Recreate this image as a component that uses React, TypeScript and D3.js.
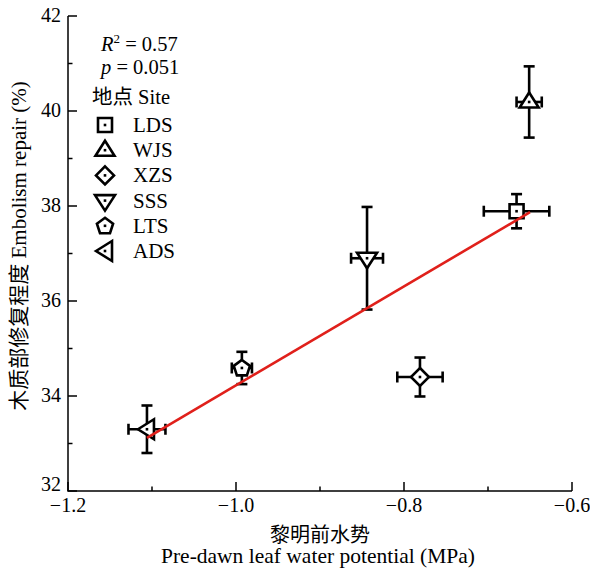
import React from 'react';
import * as d3 from 'd3';

// values
const sites = ['LDS', 'WJS', 'XZS', 'SSS', 'LTS', 'ADS'];
const psiPd = [-0.666, -0.651, -0.781, -0.844, -0.993, -1.106];
const psiErr = [0.039, 0.015, 0.027, 0.019, 0.012, 0.022];
const repair = [37.89, 40.19, 34.4, 36.9, 34.59, 33.3];
const repairErr = [0.36, 0.75, 0.41, 1.08, 0.34, 0.5];
const fitX = [-1.106, -0.65];
const fitY = [33.12, 37.87];
const xTicks = [-1.2, -1.0, -0.8, -0.6];
const xMinor = [-1.1, -0.9, -0.7];
const yTicks = [32, 34, 36, 38, 40, 42];
const yMinor = [33, 35, 37, 39, 41];

const FONT = '"Liberation Serif", "Times New Roman", "Noto Sans CJK SC", serif';

// marker outlines around (0,0)
const shapes: Record<string, [number, number][]> = {
  LDS: [[-7, -7], [7, -7], [7, 7], [-7, 7]],
  WJS: [[0, -9.5], [9.5, 5.5], [-9.5, 5.5]],
  XZS: [[0, -9], [9, 0], [0, 9], [-9, 0]],
  SSS: [[-10, -5.5], [10, -5.5], [0, 10]],
  LTS: d3.range(5).map(i => {
    const a = -Math.PI / 2 + (i * 2 * Math.PI) / 5;
    return [8.5 * Math.cos(a), 8.5 * Math.sin(a) + 0.5] as [number, number];
  }),
  ADS: [[-9, 0], [7, -10], [7, 10]],
};

const line = d3.line<[number, number]>().curve(d3.curveLinearClosed);

const Marker = ({ site, x, y }: { site: string; x: number; y: number }) => (
  <g transform={`translate(${x},${y})`}>
    <path d={line(shapes[site]) || ''} fill="white" stroke="black" strokeWidth={2.6} strokeLinejoin="miter" />
    <rect x={-1.3} y={-1.3} width={2.6} height={2.6} fill="black" />
  </g>
);

export default function App() {
  const x = d3.scaleLinear().domain([-1.2, -0.6]).range([68, 572]);
  const y = d3.scaleLinear().domain([32, 42]).range([491, 16]);
  const fit = d3.line<number>().x(d => x(d)).y((d, i) => y(fitY[i]));

  return (
    <svg width={590} height={570} style={{ position: 'absolute', left: 0, top: 0, fontFamily: FONT }}>
      <rect width={590} height={570} fill="white" />

      {/* axes */}
      <g stroke="black" strokeWidth={1.5} fill="none">
        <path d={`M${x(-1.2)},${y(42)}V${y(32)}H${x(-0.6)}`} />
        {xTicks.map(t => <line key={'xt' + t} x1={x(t)} x2={x(t)} y1={y(32)} y2={y(32) - 9} />)}
        {xMinor.map(t => <line key={'xm' + t} x1={x(t)} x2={x(t)} y1={y(32)} y2={y(32) - 4.5} />)}
        {yTicks.map(t => <line key={'yt' + t} x1={x(-1.2)} x2={x(-1.2) + 9} y1={y(t)} y2={y(t)} />)}
        {yMinor.map(t => <line key={'ym' + t} x1={x(-1.2)} x2={x(-1.2) + 4.5} y1={y(t)} y2={y(t)} />)}
      </g>
      <g fontSize={20} fill="black">
        {xTicks.map(t => (
          <text key={'xl' + t} x={x(t)} y={512} textAnchor="middle">
            {d3.format('.1f')(t).replace('-', '\u2212')}
          </text>
        ))}
        {yTicks.map(t => (
          <text key={'yl' + t} x={61} y={y(t) + (t === 32 ? 0 : 6)} textAnchor="end">{t}</text>
        ))}
      </g>

      {/* axis titles */}
      <g fill="black" textAnchor="middle">
        <text x={320} y={542} fontSize={20}>黎明前水势</text>
        <text x={318} y={563} fontSize={21.5}>Pre-dawn leaf water potential (MPa)</text>
        <text transform="translate(26,246) rotate(-90)" fontSize={21}>木质部修复程度 Embolism repair (%)</text>
      </g>

      {/* error bars */}
      <g stroke="black" strokeWidth={2.6}>
        {sites.map((s, i) => {
          const cx = x(psiPd[i]);
          const cy = y(repair[i]);
          const y0 = y(repair[i] - repairErr[i]);
          const y1 = y(repair[i] + repairErr[i]);
          const x0 = x(psiPd[i] - psiErr[i]);
          const x1 = x(psiPd[i] + psiErr[i]);
          return (
            <g key={'e' + s}>
              <line x1={cx} x2={cx} y1={y0} y2={y1} />
              <line x1={cx - 5.5} x2={cx + 5.5} y1={y0} y2={y0} />
              <line x1={cx - 5.5} x2={cx + 5.5} y1={y1} y2={y1} />
              <line x1={x0} x2={x1} y1={cy} y2={cy} />
              <line x1={x0} x2={x0} y1={cy - 5.5} y2={cy + 5.5} />
              <line x1={x1} x2={x1} y1={cy - 5.5} y2={cy + 5.5} />
            </g>
          );
        })}
      </g>

      {sites.map((s, i) => <Marker key={'m' + s} site={s} x={x(psiPd[i])} y={y(repair[i])} />)}

      {/* fitted line */}
      <path d={fit(fitX) || ''} stroke="#e0201b" strokeWidth={2.6} fill="none" />

      {/* legend */}
      <g fontSize={20.5} fill="black">
        <text x={101} y={51}>
          <tspan fontStyle="italic">R</tspan>
          <tspan fontSize={13} dy={-8}>2</tspan>
          <tspan dy={8}> = 0.57</tspan>
        </text>
        <text x={101} y={74}>
          <tspan fontStyle="italic">p</tspan> = 0.051
        </text>
        <text x={92} y={104}>地点 Site</text>
        {sites.map((s, i) => (
          <g key={'lg' + s}>
            <Marker site={s} x={105} y={125 + i * 25.2} />
            <text x={133} y={125 + i * 25.2 + 7} fontSize={21}>{s}</text>
          </g>
        ))}
      </g>
    </svg>
  );
}
